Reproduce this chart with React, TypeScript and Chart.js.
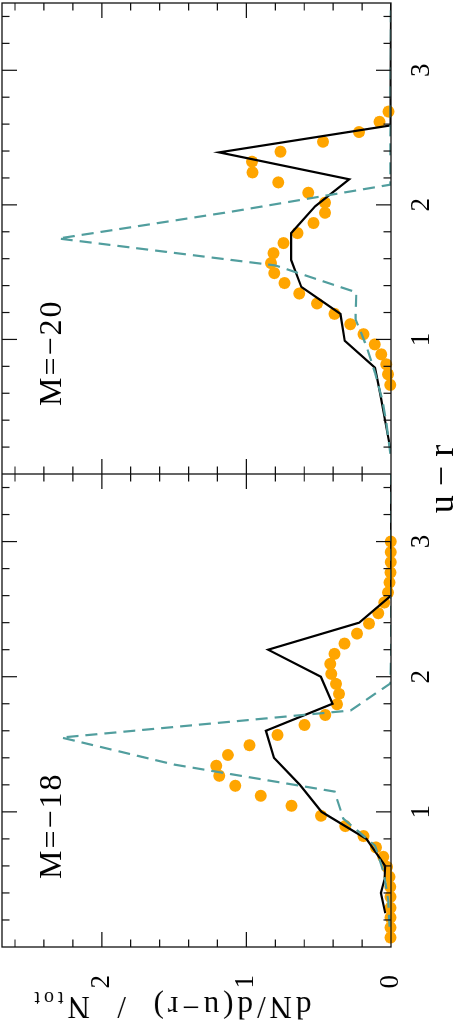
import React, { useEffect, useRef } from "react";
import { Chart, registerables } from "chart.js";

Chart.register(...registerables);

// ---------- data: M = -18 (left panel) ----------
const dotsU18 = [0.07, 0.144, 0.218, 0.29, 0.371, 0.445, 0.519, 0.593, 0.667, 0.737, 0.821, 0.895, 0.971, 1.045, 1.119, 1.193, 1.267, 1.341, 1.421, 1.493, 1.569, 1.643, 1.717, 1.796, 1.873, 1.947, 2.021, 2.095, 2.169, 2.245, 2.319, 2.393, 2.47, 2.549, 2.623, 2.697, 2.771, 2.848, 2.922, 3.0];
const dotsN18 = [0.003, 0.003, 0.003, 0.003, 0.003, 0.005, 0.01, 0.028, 0.053, 0.104, 0.19, 0.316, 0.484, 0.688, 0.9, 1.077, 1.188, 1.209, 1.128, 0.979, 0.785, 0.598, 0.455, 0.374, 0.36, 0.38, 0.413, 0.42, 0.39, 0.322, 0.235, 0.152, 0.088, 0.046, 0.02, 0.01, 0.003, 0.002, 0.002, 0.002];
const solidU18 = [0.25, 0.4, 0.5, 0.6, 0.8, 1.0, 1.2, 1.4, 1.6, 1.8, 2.0, 2.2, 2.4, 2.6, 3.5];
const solidN18 = [0.04, 0.07, 0.045, 0.04, 0.17, 0.48, 0.63, 0.81, 0.865, 0.405, 0.485, 0.85, 0.22, 0.0, 0.0];
const dashU18 = [0.15, 0.35, 0.55, 0.75, 0.95, 1.15, 1.35, 1.55, 1.75, 1.95, 2.15, 3.5];
const dashN18 = [0.01, 0.02, 0.05, 0.11, 0.33, 0.39, 1.5, 2.28, 0.28, 0.005, 0, 0];

// ---------- data: M = -20 (right panel) ----------
const dotsU20 = [0.662, 0.741, 0.815, 0.889, 0.963, 1.039, 1.113, 1.19, 1.267, 1.341, 1.419, 1.493, 1.567, 1.641, 1.716, 1.79, 1.865, 1.941, 2.016, 2.09, 2.167, 2.241, 2.321, 2.395, 2.469, 2.541, 2.617, 2.693];
const dotsN20 = [0.005, 0.021, 0.033, 0.067, 0.113, 0.19, 0.282, 0.39, 0.512, 0.635, 0.736, 0.808, 0.83, 0.812, 0.743, 0.646, 0.536, 0.457, 0.457, 0.572, 0.78, 0.958, 0.962, 0.764, 0.471, 0.221, 0.079, 0.017];
const solidU20 = [0.19, 0.39, 0.59, 0.79, 0.99, 1.19, 1.39, 1.59, 1.79, 1.99, 2.19, 2.39, 2.59, 3.5];
const solidN20 = [0.005, 0.04, 0.074, 0.11, 0.32, 0.35, 0.62, 0.69, 0.69, 0.524, 0.289, 1.188, 0.005, 0];
const dashU20 = [0.15, 0.35, 0.55, 0.75, 0.95, 1.15, 1.35, 1.55, 1.75, 1.95, 2.15, 3.5];
const dashN20 = [0.005, 0.028, 0.06, 0.11, 0.17, 0.245, 0.24, 0.8, 2.3, 1.1, 0.005, 0];

// ---------- axes ----------
const uMin = 0;
const uMax = 3.5;
const nMin = 0;
const nMax = 2.69;
const uLabelTicks = [1, 2, 3];
const nLabelTicks = [0, 1, 2];
const uMajor = [1, 2, 3];
const uMinor = [0.2, 0.4, 0.6, 0.8, 1.2, 1.4, 1.6, 1.8, 2.2, 2.4, 2.6, 2.8, 3.2, 3.4];
const nMajor = [1, 2];
const nMinor = [0.2, 0.4, 0.6, 0.8, 1.2, 1.4, 1.6, 1.8, 2.2, 2.4, 2.6];

const ORANGE = "#ffa500";
const TEAL = "#519e9e";
const FONT = "'Liberation Serif', 'Times New Roman', serif";

const framePlugin = {
  id: "frameTicks",
  afterDatasetsDraw(chart: any) {
    const { ctx, chartArea: a, scales } = chart;
    const xs = scales.x;
    const ys = scales.y;
    ctx.save();
    ctx.strokeStyle = "#111";
    ctx.lineWidth = 1.3;
    ctx.strokeRect(a.left, a.top, a.right - a.left, a.bottom - a.top);
    ctx.lineWidth = 1.2;
    ctx.beginPath();
    const xt = (vals: number[], len: number) => {
      for (const v of vals) {
        const p = xs.getPixelForValue(v);
        ctx.moveTo(p, a.top);
        ctx.lineTo(p, a.top + len);
        ctx.moveTo(p, a.bottom);
        ctx.lineTo(p, a.bottom - len);
      }
    };
    const yt = (vals: number[], len: number) => {
      for (const v of vals) {
        const p = ys.getPixelForValue(v);
        ctx.moveTo(a.left, p);
        ctx.lineTo(a.left + len, p);
        ctx.moveTo(a.right, p);
        ctx.lineTo(a.right - len, p);
      }
    };
    xt(uMajor, 15);
    xt(uMinor, 7.5);
    yt(nMajor, 15);
    yt(nMinor, 7.5);
    ctx.stroke();
    ctx.restore();
  },
};

function pts(xs: number[], ys: number[]) {
  return xs.map((x, i) => ({ x, y: ys[i] }));
}

function makeConfig(
  dU: number[], dN: number[], sU: number[], sN: number[], qU: number[], qN: number[], showY: boolean
): any {
  return {
    type: "scatter",
    data: {
      datasets: [
        {
          data: pts(qU, qN),
          showLine: true,
          borderColor: TEAL,
          borderWidth: 2.2,
          borderDash: [12, 7],
          pointRadius: 0,
          fill: false,
        },
        {
          data: pts(sU, sN),
          showLine: true,
          borderColor: "#000",
          borderWidth: 2.2,
          pointRadius: 0,
          fill: false,
        },
        {
          data: pts(dU, dN),
          showLine: false,
          pointRadius: 6,
          pointBackgroundColor: ORANGE,
          pointBorderColor: ORANGE,
          pointBorderWidth: 0,
          clip: false,
        },
      ],
    },
    options: {
      animation: false,
      responsive: false,
      events: [],
      plugins: { legend: { display: false }, tooltip: { enabled: false } },
      layout: { autoPadding: false, padding: { top: 2, right: showY ? 0 : 3, left: 0, bottom: 0 } },
      scales: {
        x: {
          type: "linear",
          min: uMin,
          max: uMax,
          grid: { display: false },
          border: { display: false },
          afterBuildTicks: (s: any) => {
            s.ticks = uLabelTicks.map((v) => ({ value: v }));
          },
          ticks: {
            font: { family: FONT, size: 27 },
            color: "#000",
            padding: 7,
            maxRotation: 0,
            autoSkip: false,
          },
          afterFit: (s: any) => {
            s.height = 63;
            s.paddingLeft = 0;
            s.paddingRight = 0;
          },
        },
        y: {
          type: "linear",
          min: nMin,
          max: nMax,
          display: showY,
          grid: { display: false },
          border: { display: false },
          afterBuildTicks: (s: any) => {
            s.ticks = nLabelTicks.map((v) => ({ value: v }));
          },
          ticks: {
            font: { family: FONT, size: 27 },
            color: "#000",
            padding: 20,
            autoSkip: false,
          },
          afterFit: (s: any) => {
            s.width = showY ? 85 : 0;
            s.paddingTop = 0;
            s.paddingBottom = 0;
          },
        },
      },
    },
    plugins: [framePlugin],
  };
}

export default function App() {
  const leftRef = useRef<HTMLCanvasElement>(null);
  const rightRef = useRef<HTMLCanvasElement>(null);

  useEffect(() => {
    document.documentElement.style.overflow = "hidden";
    const c1 = new Chart(leftRef.current!, makeConfig(dotsU18, dotsN18, solidU18, solidN18, dashU18, dashN18, true));
    const c2 = new Chart(rightRef.current!, makeConfig(dotsU20, dotsN20, solidU20, solidN20, dashU20, dashN20, false));
    return () => {
      c1.destroy();
      c2.destroy();
    };
  }, []);

  const label: React.CSSProperties = {
    position: "absolute",
    whiteSpace: "nowrap",
    fontFamily: FONT,
    color: "#000",
  };

  return (
    <div
      style={{
        position: "absolute",
        left: 0,
        top: 0,
        width: 1032,
        height: 454,
        transformOrigin: "0 0",
        transform: "translate(0px, 1032px) rotate(-90deg)",
        background: "#fff",
        overflow: "hidden",
      }}
    >
      <canvas ref={leftRef} width={558} height={454} style={{ position: "absolute", left: 0, top: 0 }} />
      <canvas ref={rightRef} width={474} height={454} style={{ position: "absolute", left: 558, top: 0 }} />
      <div style={{ ...label, left: 153, top: 34, fontSize: 32, lineHeight: "32px", letterSpacing: 2 }}>M=−18</div>
      <div style={{ ...label, left: 626, top: 34, fontSize: 32, lineHeight: "32px", letterSpacing: 2 }}>M=−20</div>
      <div style={{ ...label, left: 453, top: 423, width: 200, textAlign: "center", fontSize: 36, lineHeight: "36px" }}>u − r</div>
      <div
        style={{
          ...label,
          left: 25 - 200,
          top: 171 - 16,
          width: 400,
          height: 32,
          textAlign: "center",
          fontSize: 31,
          lineHeight: "32px",
          letterSpacing: 4,
          transform: "rotate(-90deg)",
        }}
      >
        dN/d(u−r)&nbsp;&nbsp;/&nbsp;&nbsp;N
        <span style={{ fontSize: 20, position: "relative", top: 5 }}>tot</span>
      </div>
    </div>
  );
}
